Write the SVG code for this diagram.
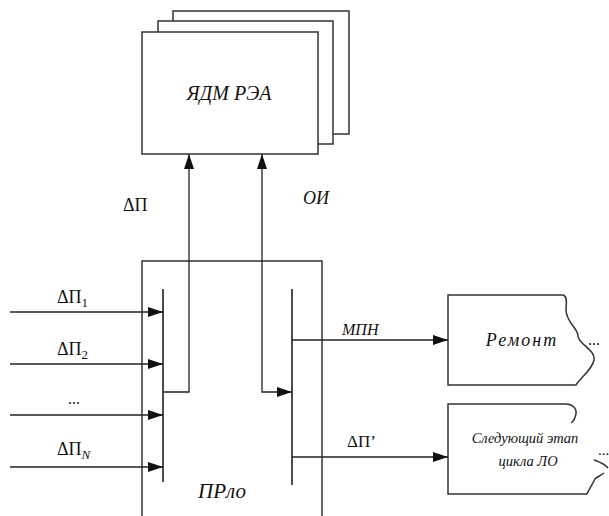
<svg xmlns="http://www.w3.org/2000/svg" width="609" height="516" viewBox="0 0 609 516">
<defs>
<style>
.box{fill:#fff;stroke:#333;stroke-width:1.5}
.ln{fill:none;stroke:#222;stroke-width:1.3}
.edge{fill:none;stroke:#333;stroke-width:1.5}
.bus{fill:none;stroke:#111;stroke-width:1.5}
text{font-family:'Liberation Serif','Times New Roman',serif;fill:#111}
.i{font-style:italic}
</style>
<marker id="ah" markerUnits="userSpaceOnUse" markerWidth="15" markerHeight="10" refX="15" refY="5" orient="auto-start-reverse" viewBox="0 0 15 10">
<path d="M0,0 L15,5 L0,10 z" fill="#111"/>
</marker>
</defs>
<rect width="609" height="516" fill="#fff"/>
<g id="yadm">
<rect class="box" x="173" y="11" width="176" height="123"/>
<rect class="box" x="158" y="21" width="175" height="123"/>
<rect class="box" x="142" y="32" width="176" height="122"/>
<text class="i" x="229" y="100" font-size="20" text-anchor="middle">ЯДМ РЭА</text>
</g>
<g id="prlo">
<path class="box" d="M142,516 L142,261 L322,261 L322,516"/>
<text class="i" x="222" y="498" font-size="21" text-anchor="middle">ПРло</text>
</g>
<g id="remont">
<path class="box" d="M448,295 L563,295 C568,296 566,304 566,310 C566,322 578,328 578,336 C578,344 596,350 594,360 C592,370 581,377 576,385 L448,385 Z"/>
<text class="i" x="522" y="346" font-size="18" letter-spacing="2" text-anchor="middle">Ремонт</text>
<text x="588" y="345" font-size="16">...</text>
</g>
<g id="next">
<path d="M448,404 L566,404 C572,404 577,408 576,414 C575,419 574,421 571,423 C574,430 578,445 585,458 C592,460 604,463 607,468 C606,472 598,476 595,479 C592,485 589,489 587,494 L448,494 Z" fill="#fff"/>
<path class="edge" d="M566,404 L448,404 L448,494 L587,494"/>
<path class="edge" d="M566,404 C572,404 577,408 576,414 C575,419 574,421 571,423"/>
<path class="edge" d="M594,460 C600,462 605,464 608,468 M604,473 C600,476 597,477 595,479 C592,485 589,489 587,494"/>
<text class="i" x="525" y="443" font-size="14.5" text-anchor="middle">Следующий этап</text>
<text class="i" x="528" y="466" font-size="14.5" text-anchor="middle">цикла ЛО</text>
<text x="598" y="455" font-size="15">...</text>
</g>
<g id="buses">
<line class="bus" x1="163" y1="289" x2="163" y2="482"/>
<line class="bus" x1="292" y1="289" x2="292" y2="485"/>
</g>
<g id="connectors">
<line class="ln" x1="10" y1="312" x2="163" y2="312" marker-end="url(#ah)"/>
<line class="ln" x1="10" y1="364" x2="163" y2="364" marker-end="url(#ah)"/>
<line class="ln" x1="10" y1="415" x2="163" y2="415" marker-end="url(#ah)"/>
<line class="ln" x1="10" y1="467" x2="163" y2="467" marker-end="url(#ah)"/>
<path class="ln" d="M163,392 L189,392 L189,154" marker-end="url(#ah)"/>
<path class="ln" d="M262,154 L262,392 L292,392" marker-start="url(#ah)" marker-end="url(#ah)"/>
<line class="ln" x1="292" y1="340" x2="448" y2="340" marker-end="url(#ah)"/>
<line class="ln" x1="292" y1="457" x2="448" y2="457" marker-end="url(#ah)"/>
</g>
<g id="labels">
<text x="57" y="303" font-size="18">ΔП<tspan font-size="13" dy="4">1</tspan></text>
<text x="57" y="355" font-size="18">ΔП<tspan font-size="13" dy="4">2</tspan></text>
<text x="68" y="404" font-size="16">...</text>
<text x="57" y="455" font-size="18">ΔП<tspan class="i" font-size="13" dy="4">N</tspan></text>
<text x="123" y="211" font-size="18">ΔП</text>
<text class="i" x="303" y="204" font-size="18">ОИ</text>
<text class="i" x="342" y="335" font-size="16">МПН</text>
<text x="347" y="447" font-size="17">ΔП’</text>
</g>
</svg>
